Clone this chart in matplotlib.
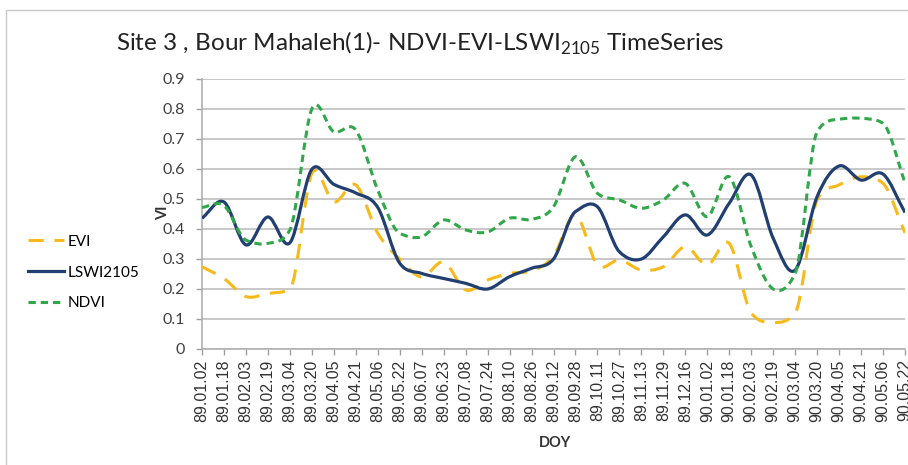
import matplotlib

matplotlib.use("Agg")
import matplotlib.pyplot as plt
from matplotlib.lines import Line2D
from matplotlib.patches import PathPatch, Rectangle
from matplotlib.path import Path

dates = [
    "89.01.02", "89.01.18", "89.02.03", "89.02.19", "89.03.04", "89.03.20",
    "89.04.05", "89.04.21", "89.05.06", "89.05.22", "89.06.07", "89.06.23",
    "89.07.08", "89.07.24", "89.08.10", "89.08.26", "89.09.12", "89.09.28",
    "89.10.11", "89.10.27", "89.11.13", "89.11.29", "89.12.16", "90.01.02",
    "90.01.18", "90.02.03", "90.02.19", "90.03.04", "90.03.20", "90.04.05",
    "90.04.21", "90.05.06", "90.05.22",
]
evi = [
    0.274, 0.235, 0.175, 0.185, 0.20, 0.585, 0.49, 0.547, 0.386, 0.30, 0.24,
    0.29, 0.197, 0.23, 0.252, 0.26, 0.31, 0.447, 0.28, 0.297, 0.263, 0.274,
    0.341, 0.28, 0.352, 0.12, 0.088, 0.12, 0.497, 0.547, 0.574, 0.552, 0.387,
]
lswi = [
    0.436, 0.49, 0.347, 0.44, 0.354, 0.599, 0.549, 0.52, 0.472, 0.286, 0.252,
    0.235, 0.219, 0.20, 0.241, 0.269, 0.30, 0.458, 0.474, 0.324, 0.30, 0.374,
    0.447, 0.38, 0.486, 0.58, 0.369, 0.263, 0.508, 0.61, 0.563, 0.583, 0.455,
]
ndvi = [
    0.472, 0.478, 0.363, 0.352, 0.397, 0.80, 0.724, 0.73, 0.53, 0.386, 0.374,
    0.43, 0.397, 0.39, 0.436, 0.432, 0.474, 0.641, 0.519, 0.497, 0.469, 0.497,
    0.552, 0.441, 0.574, 0.341, 0.20, 0.252, 0.724, 0.766, 0.769, 0.752, 0.555,
]

EVI_COLOR = "#F7BA1A"
LSWI_COLOR = "#213F70"
NDVI_COLOR = "#30A84A"


def smooth_path(ys):
    # smoothed line like Excel: Catmull-Rom tangents, clamped on steep
    # monotone stretches so the curve does not dip before a sharp rise
    n = len(ys)
    tang = []
    for i in range(n):
        lo, hi = max(i - 1, 0), min(i + 1, n - 1)
        d = (ys[hi] - ys[lo]) / (hi - lo)
        if 0 < i < n - 1:
            s_left = ys[i] - ys[i - 1]
            s_right = ys[i + 1] - ys[i]
            if s_left * s_right > 0:
                lim = 3 * min(abs(s_left), abs(s_right))
                d = max(-lim, min(lim, d))
        tang.append(d)
    verts = [(0, ys[0])]
    codes = [Path.MOVETO]
    for i in range(n - 1):
        verts += [(i + 1 / 3, ys[i] + tang[i] / 3),
                  (i + 2 / 3, ys[i + 1] - tang[i + 1] / 3),
                  (i + 1, ys[i + 1])]
        codes += [Path.CURVE4] * 3
    return Path(verts, codes)


fig = plt.figure(figsize=(9.08, 4.65), dpi=100)
fig.patches.append(Rectangle((6 / 908, -0.1), 1.2, 1.1 - 10 / 465,
                             transform=fig.transFigure, fill=False,
                             edgecolor="#c8c8c8", linewidth=1.0))
ax = fig.add_axes([202 / 908, 1 - 349 / 465, 703 / 908, 270 / 465])

series = [
    ("EVI", evi, EVI_COLOR, 2.2, (0, (5, 3.5))),
    ("LSWI2105", lswi, LSWI_COLOR, 2.3, "solid"),
    ("NDVI", ndvi, NDVI_COLOR, 2.2, (0, (2.4, 1.6))),
]
handles = []
for name, ys, color, lw, ls in series:
    patch = PathPatch(smooth_path(ys), fill=False, edgecolor=color,
                      linewidth=lw, linestyle=ls, zorder=3,
                      capstyle="butt", joinstyle="round")
    ax.add_patch(patch)
    handles.append(Line2D([], [], color=color, linewidth=lw, linestyle=ls))

ax.set_xlim(0, len(dates) - 1)
ax.set_ylim(0, 0.9)
ax.set_yticks([i / 10 for i in range(10)])
ax.set_yticklabels(["0"] + [f"0.{i}" for i in range(1, 10)],
                   fontsize=11.5, color="#404040", family="Lato")
ax.set_xticks(range(len(dates)))
ax.set_xticklabels(dates, rotation=90, fontsize=11.5, color="#333333",
                   family="Liberation Sans")
ax.tick_params(axis="both", length=4, color="#a0a0a0", width=1.0)
ax.tick_params(axis="y", pad=8)
ax.grid(axis="y", color="#c4c4c4", linewidth=1.3)
ax.set_axisbelow(True)
for side in ("top", "right"):
    ax.spines[side].set_visible(False)
for side in ("left", "bottom"):
    ax.spines[side].set_color("#b0b0b0")
    ax.spines[side].set_linewidth(1.2)

ax.set_xlabel("DOY", fontsize=10.5, fontweight="bold", family="Lato",
              color="#333333")
ax.xaxis.set_label_coords((555 - 202) / 703, -(436 - 349) / 270)
ax.set_ylabel("VI", fontsize=10.5, fontweight="bold", family="Lato",
              color="#333333")
ax.yaxis.set_label_coords(-(202 - 170) / 703, (349 - 213) / 270)

fig.text(420 / 908, 1 - 43 / 465,
         r"Site 3 , Bour Mahaleh(1)- NDVI-EVI-LSWI$_{\mathregular{2105}}$ TimeSeries",
         ha="center", va="center", fontsize=17.5, family="Lato", color="#222222")

fig.legend(handles, [s[0] for s in series], loc="upper left",
           bbox_to_anchor=(14 / 908, 1 - 221 / 465), frameon=False,
           handlelength=2.4, handletextpad=0.2, labelspacing=1.1,
           prop={"family": "Lato", "size": 11})

fig.savefig("out.png", dpi=100)
